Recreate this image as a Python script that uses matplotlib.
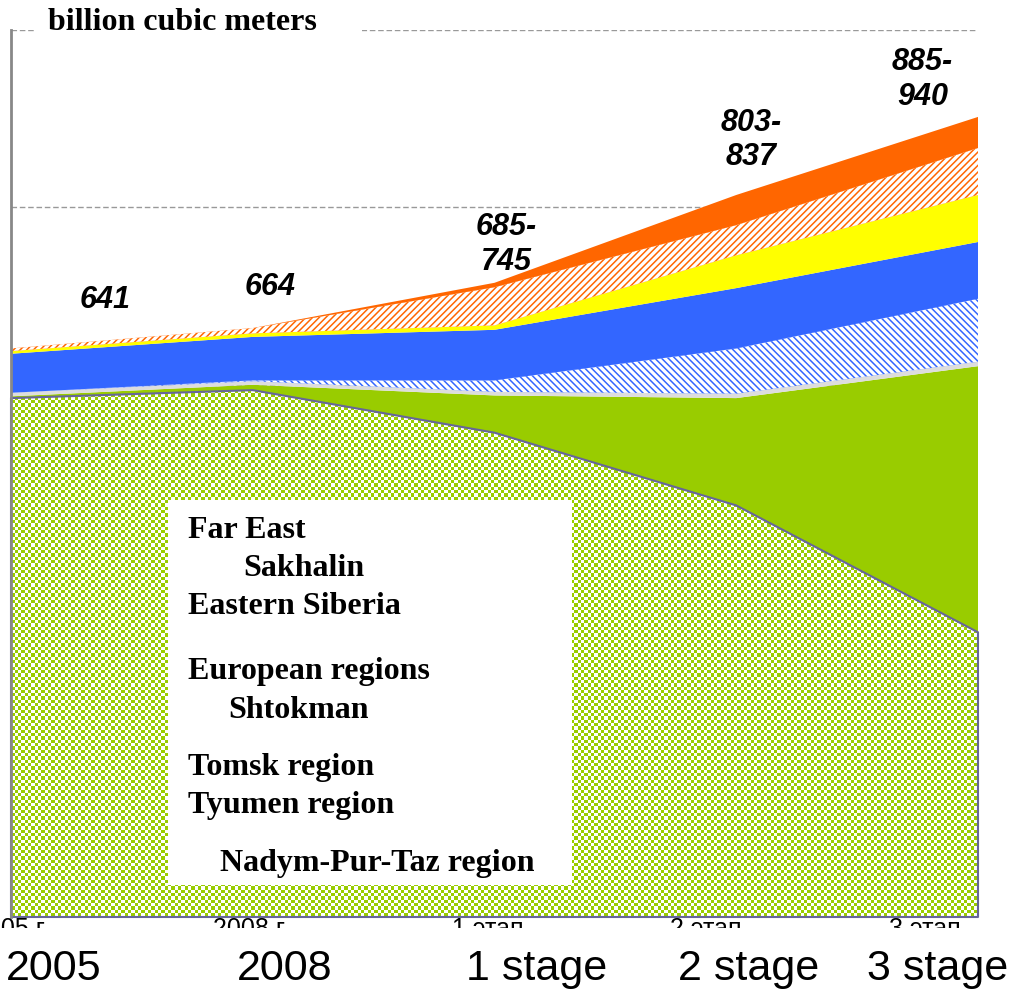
import numpy as np
import matplotlib
matplotlib.use('Agg')
import matplotlib.pyplot as plt
from matplotlib.patches import Rectangle
from matplotlib.transforms import Bbox, TransformedBbox

# ---------------- data ----------------
stages = ['2005', '2008', '1 stage', '2 stage', '3 stage']
stage_labels_ru = ['2005 г.', '2008 г.', '1 этап', '2 этап', '3 этап']
nadym = [585, 594, 546, 464, 321]
tyumen = [2, 6, 42, 121, 300]
tomsk = [4, 4, 4, 5, 5]
shtokman = [0, 1, 13, 51, 71]
european = [44, 49, 57, 68, 64]
east_siberia = [3, 4, 5, 37, 53]
sakhalin = [3, 6, 43, 34, 53]
far_east = [0, 0, 5, 34, 35]
totals_text = ['641', '664', '685-\n745', '803-\n837', '885-\n940']
legend_labels = ['Far East', 'Sakhalin', 'Eastern Siberia', 'European regions',
                 'Shtokman', 'Tomsk region', 'Tyumen region', 'Nadym-Pur-Taz region']
unit_title = 'billion cubic meters'

# ---------------- styling ----------------
W, H = 1009, 989
plt.rcParams['hatch.linewidth'] = 2.3
plt.rcParams['hatch.color'] = 'white'

fig = plt.figure(figsize=(W / 100, H / 100), dpi=100)

def fx(px):
    return px / W

def fy(py):
    return 1 - py / H

ax_l, ax_r, ax_t, ax_b = 11, 978, 30, 917
ax = fig.add_axes([fx(ax_l), fy(ax_b), (ax_r - ax_l) / W, (ax_b - ax_t) / H])

x = np.arange(len(stages))
layers = [nadym, tyumen, tomsk, shtokman, european, east_siberia, sakhalin, far_east]
cum = np.cumsum(np.array(layers, dtype=float), axis=0)
base = np.vstack([np.zeros(len(x)), cum[:-1]])

GREEN = '#99CC00'
BLUE = '#3366FF'
ORANGE = '#FF6600'

# Nadym (checkered)
poly = ax.fill_between(x, base[0], cum[0], facecolor=GREEN, linewidth=0, zorder=2)
ph, pw = ax_b - ax_t, ax_r - ax_l
ii, jj = np.mgrid[0:ph, 0:pw]
cell = 3.33
chk = ((np.floor(ii / cell) + np.floor(jj / cell)) % 2 == 0)
img = np.zeros((ph, pw, 4))
img[chk] = [1, 1, 1, 1]
im = ax.imshow(img, extent=(0, len(x) - 1, 0, 1000), aspect='auto',
               interpolation='none', zorder=2.1, origin='upper')
im.set_clip_path(poly.get_paths()[0], ax.transData)
ax.fill_between(x, base[0], cum[0], facecolor='none', edgecolor='#666699',
                linewidth=1.5, zorder=2.2, clip_on=False)

# Tyumen
ax.fill_between(x, base[1], cum[1], facecolor=GREEN, linewidth=0, zorder=2)
# Tomsk
ax.fill_between(x, base[2], cum[2], facecolor='#DDDDDD', linewidth=0, zorder=2)
# Shtokman (hatched blue)
ax.fill_between(x, base[3], cum[3], facecolor=BLUE, edgecolor='white',
                hatch='\\\\\\\\\\', linewidth=0, zorder=2)
# European
ax.fill_between(x, base[4], cum[4], facecolor=BLUE, linewidth=0, zorder=2)
# Eastern Siberia
ax.fill_between(x, base[5], cum[5], facecolor='#FFFF00', linewidth=0, zorder=2)
# Sakhalin (hatched orange)
ax.fill_between(x, base[6], cum[6], facecolor=ORANGE, edgecolor='white',
                hatch='/////', linewidth=0, zorder=2)
# Far East
ax.fill_between(x, base[7], cum[7], facecolor=ORANGE, linewidth=0, zorder=2)

ax.set_xlim(0, len(x) - 1)
ax.set_ylim(0, 1000)
ax.set_yticks(np.arange(0, 1001, 200))
ax.set_xticks([])
ax.tick_params(axis='y', length=0, labelleft=False)
ax.set_axisbelow(True)
ax.grid(axis='y', linestyle=(0, (4, 2)), color='#999999', linewidth=1)
for s in ['top', 'right', 'bottom']:
    ax.spines[s].set_visible(False)
ax.spines['left'].set_color('#888888')
ax.spines['left'].set_linewidth(2)

# totals annotations
tot_pos = [(0.39, 696), (1.07, 710), (2.05, 758), (3.06, 876), (3.77, 944)]
for (tx, ty), t in zip(tot_pos, totals_text):
    ax.text(tx, ty, t, ha='center', va='center', fontsize=22, fontweight='bold',
            fontstyle='italic', family='Liberation Sans', linespacing=1.2, zorder=5)

# title over top gridline
fig.add_artist(Rectangle((fx(36), fy(45)), fx(362) - fx(36), fy(12) - fy(45),
                         transform=fig.transFigure, facecolor='white',
                         edgecolor='none', zorder=5))
fig.text(fx(48), fy(22), unit_title, ha='left', va='center', fontsize=23,
         fontweight='bold', family='Liberation Serif', zorder=6)

# legend box
fig.add_artist(Rectangle((fx(168), fy(885)), fx(572) - fx(168), fy(500) - fy(885),
                         transform=fig.transFigure, facecolor='white',
                         edgecolor='none', zorder=5))
leg_pos = [(188, 531), (243, 569), (188, 606), (188, 671), (228, 710),
           (188, 767), (188, 806), (220, 863)]
for (lx, ly), lab in zip(leg_pos, legend_labels):
    fig.text(fx(lx), fy(ly), lab, ha='left', va='center', fontsize=23,
             fontweight='bold', family='Liberation Serif', zorder=6)

# clipped original (Russian) tick labels, only their tops show
clip = TransformedBbox(Bbox([[0, fy(928)], [1, fy(918)]]), fig.transFigure)
ru_centers = [11, 251, 488, 706, 925]
for cx, lab in zip(ru_centers, stage_labels_ru):
    t = fig.text(fx(cx), fy(917), lab, ha='center', va='top', fontsize=18,
                 family='Liberation Sans', zorder=6)
    t.set_clip_box(clip)
    t.set_clip_on(True)

# large category labels
big_centers = [54, 285, 537, 749, 938]
for cx, lab in zip(big_centers, stages):
    fig.text(fx(cx), fy(980), lab, ha='center', va='baseline', fontsize=31,
             family='Liberation Sans', zorder=6)

fig.savefig('out.png', dpi=100)
